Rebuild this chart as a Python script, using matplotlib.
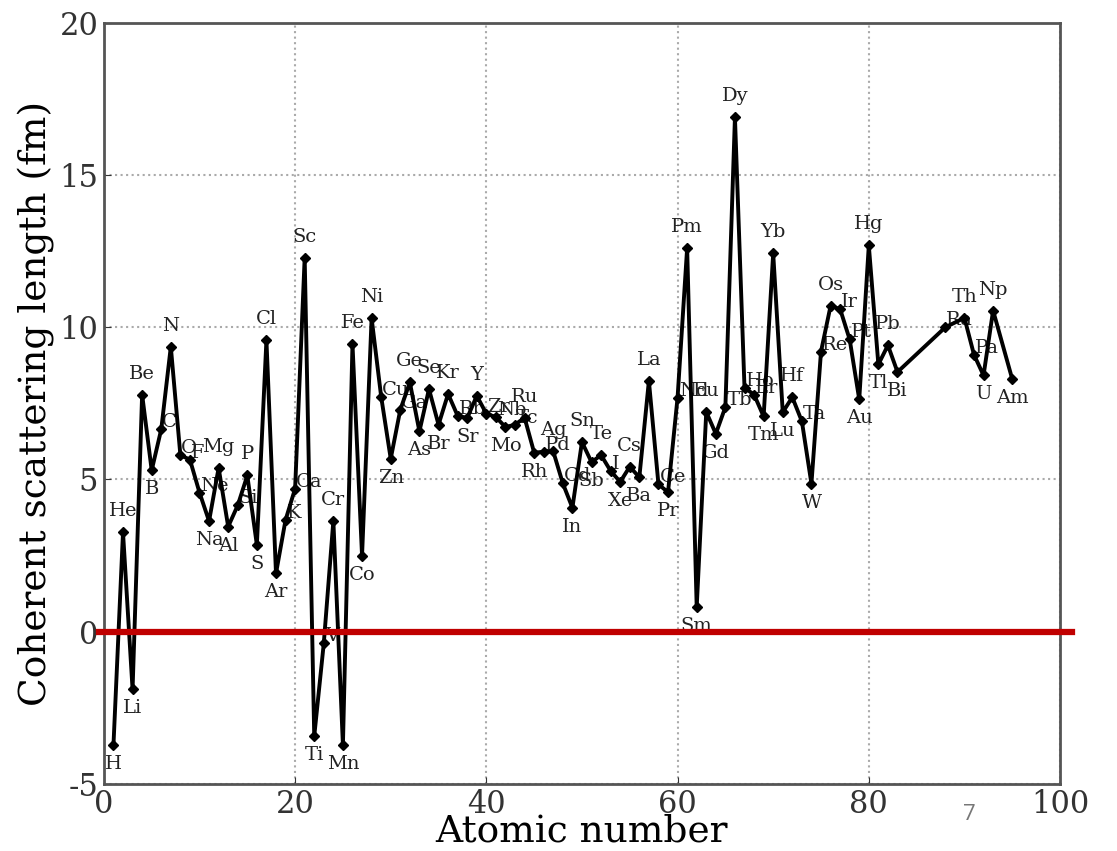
import matplotlib
matplotlib.use("Agg")
import matplotlib.pyplot as plt

# ---- data ----
atomic_number = [1, 2, 3, 4, 5, 6, 7, 8, 9, 10, 11, 12, 13, 14, 15, 16, 17, 18, 19, 20,
                 21, 22, 23, 24, 25, 26, 27, 28, 29, 30, 31, 32, 33, 34, 35, 36, 37, 38, 39, 40,
                 41, 42, 43, 44, 45, 46, 47, 48, 49, 50, 51, 52, 53, 54, 55, 56, 57, 58, 59, 60,
                 61, 62, 63, 64, 65, 66, 67, 68, 69, 70, 71, 72, 73, 74, 75, 76, 77, 78, 79, 80,
                 81, 82, 83, 88, 90, 91, 92, 93, 95]
symbols = ["H", "He", "Li", "Be", "B", "C", "N", "O", "F", "Ne", "Na", "Mg", "Al", "Si", "P", "S",
           "Cl", "Ar", "K", "Ca", "Sc", "Ti", "V", "Cr", "Mn", "Fe", "Co", "Ni", "Cu", "Zn",
           "Ga", "Ge", "As", "Se", "Br", "Kr", "Rb", "Sr", "Y", "Zr", "Nb", "Mo", "Tc", "Ru",
           "Rh", "Pd", "Ag", "Cd", "In", "Sn", "Sb", "Te", "I", "Xe", "Cs", "Ba", "La", "Ce",
           "Pr", "Nd", "Pm", "Sm", "Eu", "Gd", "Tb", "Dy", "Ho", "Er", "Tm", "Yb", "Lu", "Hf",
           "Ta", "W", "Re", "Os", "Ir", "Pt", "Au", "Hg", "Tl", "Pb", "Bi", "Ra", "Th", "Pa",
           "U", "Np", "Am"]
scattering_length = [-3.74, 3.26, -1.90, 7.79, 5.30, 6.65, 9.36, 5.80, 5.65, 4.57, 3.63, 5.38,
                     3.45, 4.15, 5.13, 2.85, 9.58, 1.91, 3.67, 4.70, 12.29, -3.44, -0.38, 3.64,
                     -3.73, 9.45, 2.49, 10.30, 7.72, 5.68, 7.29, 8.19, 6.58, 7.97, 6.80, 7.81,
                     7.09, 7.02, 7.75, 7.16, 7.05, 6.72, 6.80, 7.03, 5.88, 5.91, 5.92, 4.87,
                     4.07, 6.23, 5.57, 5.80, 5.28, 4.92, 5.42, 5.07, 8.24, 4.84, 4.58, 7.69,
                     12.60, 0.80, 7.22, 6.50, 7.38, 16.90, 8.01, 7.79, 7.07, 12.43, 7.21, 7.70,
                     6.91, 4.86, 9.20, 10.70, 10.60, 9.60, 7.63, 12.69, 8.78, 9.41, 8.53, 10.00,
                     10.31, 9.10, 8.42, 10.55, 8.30]
x_ticks = [0, 20, 40, 60, 80, 100]
y_ticks = [-5, 0, 5, 10, 15, 20]

plt.rcParams['font.family'] = ['DejaVu Serif']
plt.rcParams['axes.unicode_minus'] = False

fig = plt.figure(figsize=(11.17, 8.51), dpi=100)
ax = fig.add_axes([0.093, 0.079, 0.856, 0.894])

ax.plot(atomic_number, scattering_length, color='black', lw=2.8, marker='D',
        markersize=5, zorder=3)

lab_fs = 14
n = len(scattering_length)
for i in range(n):
    v = scattering_length[i]
    left = scattering_length[i - 1] if i > 0 else None
    right = scattering_length[i + 1] if i < n - 1 else None
    neigh = [w for w in (left, right) if w is not None]
    if all(v >= w for w in neigh):
        ax.annotate(symbols[i], (atomic_number[i], v), xytext=(0, 16),
                    textcoords='offset pixels', ha='center', va='baseline',
                    fontsize=lab_fs, color='#222222', zorder=2)
    elif all(v <= w for w in neigh):
        ax.annotate(symbols[i], (atomic_number[i], v), xytext=(0, -10),
                    textcoords='offset pixels', ha='center', va='top',
                    fontsize=lab_fs, color='#222222', zorder=2)
    else:
        ax.annotate(symbols[i], (atomic_number[i], v), xytext=(1, 7),
                    textcoords='offset pixels', ha='left', va='center',
                    fontsize=lab_fs, color='#222222', zorder=2)

ax.set_xlim(0, 100)
ax.set_ylim(-5, 20)
ax.set_xticks(x_ticks)
ax.set_yticks(y_ticks)
ax.tick_params(labelsize=22, direction='in', length=5, colors='#333333', pad=4)
ax.grid(True, linestyle=':', color='#aaaaaa', lw=1.5)
for s in ax.spines.values():
    s.set_color('#555555')
    s.set_linewidth(2)

ax.set_xlabel('Atomic number', fontsize=27, labelpad=-5)
ax.set_ylabel('Coherent scattering length (fm)', fontsize=27, labelpad=3)

# red zero line extending slightly beyond the axes
ax.plot([-0.005, 1.013], [0.2, 0.2], transform=ax.transAxes, color='#c00000',
        lw=4.5, clip_on=False, zorder=5)

fig.text(0.868, 0.043, '7', fontsize=16, color='#777777', family='Open Sans',
         ha='center', va='center')

fig.savefig('out.png', dpi=100)
